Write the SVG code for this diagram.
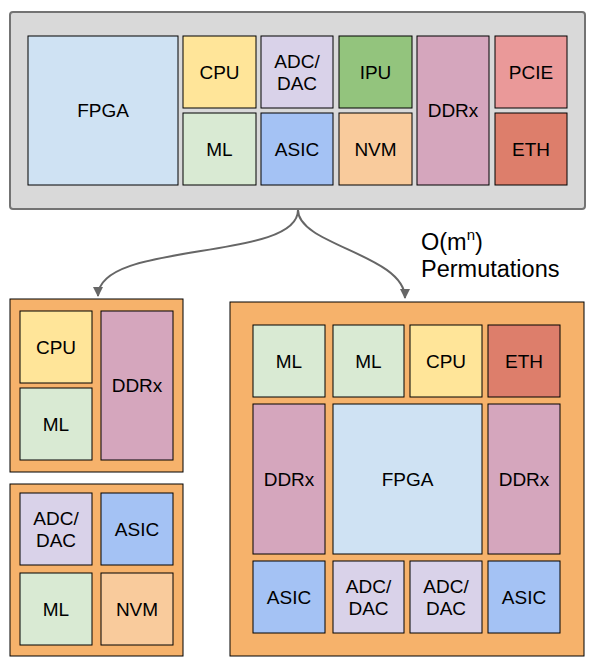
<svg xmlns="http://www.w3.org/2000/svg" width="597" height="665" viewBox="0 0 597 665">
<defs>
<style>
.c{stroke:#000;stroke-width:1}
.t{font-family:"Liberation Sans",Arial,sans-serif;font-size:19px;fill:#000;text-anchor:middle}
.fpga{fill:#cfe2f3}.cpu{fill:#ffe599}.adc{fill:#d9d2e9}.ipu{fill:#93c47d}.ddr{fill:#d5a6bd}
.pcie{fill:#ea9999}.ml{fill:#d9ead3}.asic{fill:#a4c2f4}.nvm{fill:#f9cb9c}.eth{fill:#dd7e6b}
.org{fill:#f6b26b;stroke:#000;stroke-width:1}
.conn{fill:none;stroke:#666;stroke-width:2}
.lbl{font-family:"Liberation Sans",Arial,sans-serif;font-size:23.5px;fill:#000}
</style>
<marker id="ah" viewBox="0 0 10 10" refX="9" refY="5" markerWidth="5" markerHeight="5" orient="auto" markerUnits="strokeWidth">
<path d="M0,0 L10,5 L0,10 z" fill="#666"/>
</marker>
</defs>
<rect width="597" height="665" fill="#fff"/>

<g id="top">
<rect x="10" y="12" width="575" height="197" rx="3" fill="#d9d9d9" stroke="#737373" stroke-width="2"/>
<g id="t-fpga"><rect class="c fpga" x="28" y="36" width="150" height="149"/><text class="t" x="103" y="117">FPGA</text></g>
<g id="t-cpu"><rect class="c cpu" x="183" y="36" width="73" height="72"/><text class="t" x="219.5" y="79">CPU</text></g>
<g id="t-ml"><rect class="c ml" x="183" y="113" width="73" height="72"/><text class="t" x="219.5" y="156">ML</text></g>
<g id="t-adc"><rect class="c adc" x="261" y="36" width="72" height="72"/><text class="t" x="297" y="68">ADC/</text><text class="t" x="297" y="90">DAC</text></g>
<g id="t-asic"><rect class="c asic" x="261" y="113" width="72" height="72"/><text class="t" x="297" y="156">ASIC</text></g>
<g id="t-ipu"><rect class="c ipu" x="339" y="36" width="73" height="72"/><text class="t" x="375.5" y="79">IPU</text></g>
<g id="t-nvm"><rect class="c nvm" x="339" y="113" width="73" height="72"/><text class="t" x="375.5" y="156">NVM</text></g>
<g id="t-ddr"><rect class="c ddr" x="417" y="36" width="72" height="149"/><text class="t" x="453" y="117">DDRx</text></g>
<g id="t-pcie"><rect class="c pcie" x="495" y="36" width="72" height="72"/><text class="t" x="531" y="79">PCIE</text></g>
<g id="t-eth"><rect class="c eth" x="495" y="113" width="72" height="72"/><text class="t" x="531" y="156">ETH</text></g>
</g>

<g id="connectors">
<path class="conn" d="M298,210 C298,262 98,240 98,296" marker-end="url(#ah)"/>
<path class="conn" d="M298,210 C298,245 405,255 405,298" marker-end="url(#ah)"/>
</g>

<g id="label">
<text class="lbl" x="421" y="250">O(m<tspan font-size="15" dy="-10">n</tspan><tspan dy="10">)</tspan></text>
<text class="lbl" x="421" y="277">Permutations</text>
</g>

<g id="left1">
<rect class="org" x="10" y="299" width="173" height="173"/>
<g id="l1-cpu"><rect class="c cpu" x="20" y="311" width="72" height="72"/><text class="t" x="56" y="354">CPU</text></g>
<g id="l1-ml"><rect class="c ml" x="20" y="388" width="72" height="72"/><text class="t" x="56" y="431">ML</text></g>
<g id="l1-ddr"><rect class="c ddr" x="101" y="311" width="72" height="149"/><text class="t" x="137" y="392">DDRx</text></g>
</g>

<g id="left2">
<rect class="org" x="10" y="484" width="173" height="172"/>
<g id="l2-adc"><rect class="c adc" x="20" y="493" width="72" height="72"/><text class="t" x="56" y="525">ADC/</text><text class="t" x="56" y="547">DAC</text></g>
<g id="l2-asic"><rect class="c asic" x="101" y="493" width="72" height="72"/><text class="t" x="137" y="536">ASIC</text></g>
<g id="l2-ml"><rect class="c ml" x="20" y="573" width="72" height="72"/><text class="t" x="56" y="616">ML</text></g>
<g id="l2-nvm"><rect class="c nvm" x="101" y="573" width="72" height="72"/><text class="t" x="137" y="616">NVM</text></g>
</g>

<g id="right">
<rect class="org" x="230" y="302" width="354" height="354"/>
<g id="r-ml1"><rect class="c ml" x="253" y="325" width="72" height="72"/><text class="t" x="289" y="368">ML</text></g>
<g id="r-ml2"><rect class="c ml" x="333" y="325" width="71" height="72"/><text class="t" x="368.5" y="368">ML</text></g>
<g id="r-cpu"><rect class="c cpu" x="410" y="325" width="72" height="72"/><text class="t" x="446" y="368">CPU</text></g>
<g id="r-eth"><rect class="c eth" x="488" y="325" width="72" height="72"/><text class="t" x="524" y="368">ETH</text></g>
<g id="r-ddr1"><rect class="c ddr" x="253" y="404" width="72" height="150"/><text class="t" x="289" y="486">DDRx</text></g>
<g id="r-fpga"><rect class="c fpga" x="333" y="404" width="149" height="150"/><text class="t" x="407.5" y="486">FPGA</text></g>
<g id="r-ddr2"><rect class="c ddr" x="488" y="404" width="72" height="150"/><text class="t" x="524" y="486">DDRx</text></g>
<g id="r-asic1"><rect class="c asic" x="253" y="561" width="72" height="72"/><text class="t" x="289" y="604">ASIC</text></g>
<g id="r-adc1"><rect class="c adc" x="333" y="561" width="71" height="72"/><text class="t" x="368.5" y="593">ADC/</text><text class="t" x="368.5" y="615">DAC</text></g>
<g id="r-adc2"><rect class="c adc" x="410" y="561" width="72" height="72"/><text class="t" x="446" y="593">ADC/</text><text class="t" x="446" y="615">DAC</text></g>
<g id="r-asic2"><rect class="c asic" x="488" y="561" width="72" height="72"/><text class="t" x="524" y="604">ASIC</text></g>
</g>
</svg>
